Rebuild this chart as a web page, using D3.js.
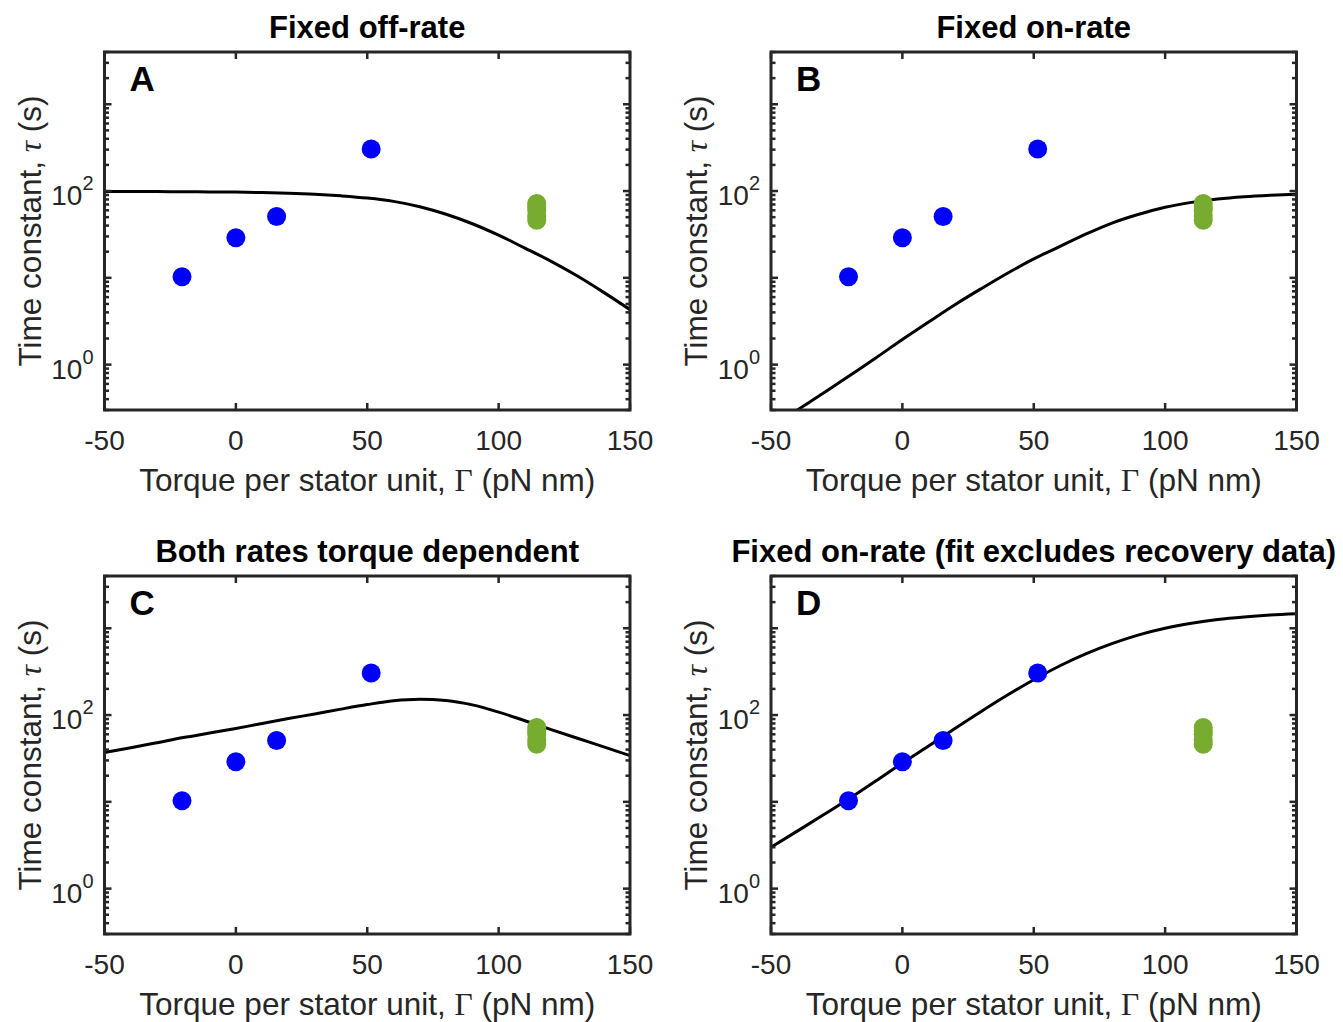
<!DOCTYPE html>
<html>
<head>
<meta charset="utf-8">
<script src="https://cdn.jsdelivr.net/npm/d3@7"></script>
<style>
  body { margin: 0; background: #fff; }
  svg { display: block; font-family: 'Liberation Sans', Arial, Helvetica, sans-serif; }
  .serif { font-family: 'Liberation Serif', 'DejaVu Serif', serif; }
</style>
</head>
<body>
<svg id="chart" width="1343" height="1022"></svg>
<script>
// data
const xTicks = [-50, 0, 50, 100, 150];
const yLabelTicks = [1, 100];
const yDomain = [0.3, 4000];

// measured time constants (s)
const blueTorque = [-20.5, 0, 15.5, 51.5];
const blueTau = [10.3, 29, 51, 305];
// recovery data
const greenTorque = [114.5, 114.5, 114.5, 114.5, 114.5];
const greenTau = [46, 52, 60, 66, 72];

// fitted curves, sampled every 10 pN nm
const fitTorque = [-50, -40, -30, -20, -10, 0, 10, 20, 30, 40, 50, 60, 70, 80, 90, 100, 110, 120, 130, 140, 150];
const fitA = [99, 98.8, 98.5, 98.2, 97.8, 97.2, 96.2, 94.6, 92, 88, 83, 76, 66, 54, 42, 31, 22, 15.5, 10.5, 6.8, 4.3];
const fitB = [0.19, 0.30, 0.47, 0.75, 1.2, 1.95, 3.1, 4.9, 7.5, 11.3, 16.5, 23, 32, 43, 54, 65, 74, 81, 86, 89.5, 92];
const fitC = [37, 42, 48, 55, 62, 70, 80, 91, 103, 117, 132, 146, 152, 147, 131, 108, 86, 68, 54, 43, 34];
const fitD = [3.0, 4.6, 7.1, 11, 17.5, 28, 44, 70, 110, 170, 255, 370, 510, 670, 840, 1000, 1140, 1260, 1350, 1420, 1470];

const panels = [
  { id: 'A', title: 'Fixed off-rate', fit: fitA, left: 104.5, top: 52 },
  { id: 'B', title: 'Fixed on-rate', fit: fitB, left: 771, top: 52 },
  { id: 'C', title: 'Both rates torque dependent', fit: fitC, left: 104.5, top: 576 },
  { id: 'D', title: 'Fixed on-rate (fit excludes recovery data)', fit: fitD, left: 771, top: 576 },
];

const width = 525.5;
const height = 358;
const axisColor = '#262626';

const svg = d3.select('#chart');

panels.forEach((p) => {
  const g = svg.append('g').attr('transform', `translate(${p.left},${p.top})`);

  const x = d3.scaleLinear().domain([-50, 150]).range([0, width]);
  const y = d3.scaleLog().domain(yDomain).range([height, 0]);

  // clip
  g.append('clipPath')
    .attr('id', `clip${p.id}`)
    .append('rect')
    .attr('width', width)
    .attr('height', height);

  // fit curve
  const pts = fitTorque.map((t, i) => [t, p.fit[i]]);
  g.append('path')
    .datum(pts)
    .attr('clip-path', `url(#clip${p.id})`)
    .attr('fill', 'none')
    .attr('stroke', '#000')
    .attr('stroke-width', 3)
    .attr('d', d3.line().x((d) => x(d[0])).y((d) => y(d[1])).curve(d3.curveMonotoneX));

  // blue points
  g.selectAll('.blue')
    .data(blueTorque.map((t, i) => [t, blueTau[i]]))
    .enter()
    .append('circle')
    .attr('cx', (d) => x(d[0]))
    .attr('cy', (d) => y(d[1]))
    .attr('r', 9.5)
    .attr('fill', '#0000ff');

  // green points
  g.selectAll('.green')
    .data(greenTorque.map((t, i) => [t, greenTau[i]]))
    .enter()
    .append('circle')
    .attr('cx', (d) => x(d[0]))
    .attr('cy', (d) => y(d[1]))
    .attr('r', 9.5)
    .attr('fill', '#77ac30');

  // ticks (inward) on all four sides
  const minorY = y.ticks().filter((v) => v >= yDomain[0] && v <= yDomain[1]);
  const isDecade = (v) => Math.abs(Math.log10(v) - Math.round(Math.log10(v))) < 1e-9;

  const tickG = g.append('g').attr('stroke', axisColor).attr('stroke-width', 2.5);
  xTicks.forEach((t) => {
    tickG.append('line').attr('x1', x(t)).attr('x2', x(t)).attr('y1', height).attr('y2', height - 7);
    tickG.append('line').attr('x1', x(t)).attr('x2', x(t)).attr('y1', 0).attr('y2', 7);
  });
  minorY.forEach((v) => {
    const len = isDecade(v) ? 7 : 4.5;
    tickG.append('line').attr('x1', 0).attr('x2', len).attr('y1', y(v)).attr('y2', y(v));
    tickG.append('line').attr('x1', width).attr('x2', width - len).attr('y1', y(v)).attr('y2', y(v));
  });

  // box
  g.append('rect')
    .attr('width', width)
    .attr('height', height)
    .attr('fill', 'none')
    .attr('stroke', axisColor)
    .attr('stroke-width', 3);

  // x tick labels
  g.selectAll('.xl')
    .data(xTicks)
    .enter()
    .append('text')
    .attr('x', (d) => x(d))
    .attr('y', height + 40)
    .attr('text-anchor', 'middle')
    .attr('font-size', 28)
    .attr('fill', axisColor)
    .text((d) => d);

  // y tick labels 10^n
  yLabelTicks.forEach((v) => {
    const t = g.append('text')
      .attr('x', -11)
      .attr('y', y(v) + 14)
      .attr('text-anchor', 'end')
      .attr('font-size', 28)
      .attr('fill', axisColor);
    t.append('tspan').text('10');
    t.append('tspan')
      .attr('dy', -15)
      .attr('font-size', 20)
      .text(Math.round(Math.log10(v)));
  });

  // x label
  const xl = g.append('text')
    .attr('x', width / 2)
    .attr('y', height + 81)
    .attr('text-anchor', 'middle')
    .attr('font-size', 31.5)
    .attr('fill', axisColor);
  xl.append('tspan').text('Torque per stator unit, ');
  xl.append('tspan').attr('class', 'serif').text('Γ');
  xl.append('tspan').text(' (pN nm)');

  // y label
  const yl = g.append('text')
    .attr('transform', `translate(${-64},${height / 2}) rotate(-90)`)
    .attr('text-anchor', 'middle')
    .attr('font-size', 31.5)
    .attr('fill', axisColor);
  yl.append('tspan').text('Time constant, ');
  yl.append('tspan').attr('class', 'serif').attr('font-style', 'italic').text('τ');
  yl.append('tspan').text(' (s)');

  // title
  g.append('text')
    .attr('x', width / 2)
    .attr('y', -14)
    .attr('text-anchor', 'middle')
    .attr('font-size', 31)
    .attr('font-weight', 'bold')
    .attr('fill', '#000')
    .text(p.title);

  // panel letter
  g.append('text')
    .attr('x', 25)
    .attr('y', 39)
    .attr('font-size', 35)
    .attr('font-weight', 'bold')
    .attr('fill', '#000')
    .text(p.id);
});
</script>
</body>
</html>
